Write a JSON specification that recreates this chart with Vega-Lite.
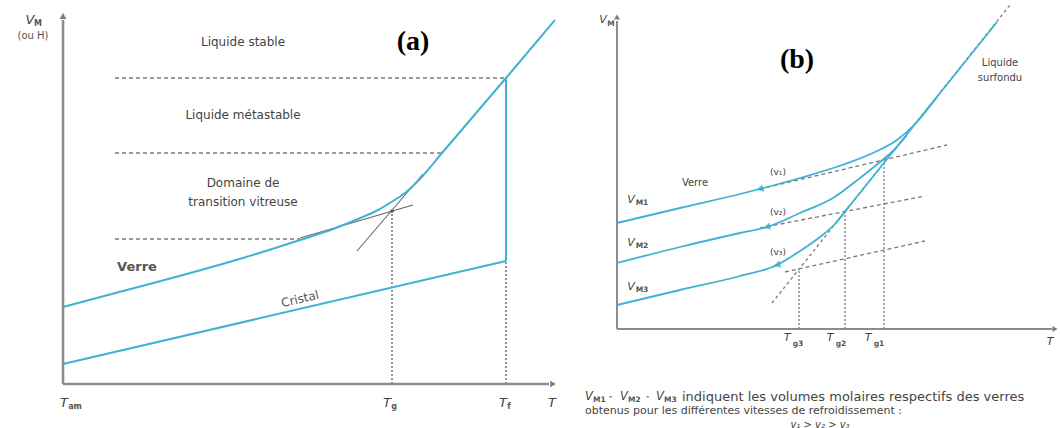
{
  "$schema": "https://vega.github.io/schema/vega-lite/v6.json",
  "autosize": {"type": "pad"},
  "padding": 0,
  "spacing": 0,
  "background": "white",
  "config": {"view": {"stroke": null}, "text": {"font": "DejaVu Sans", "baseline": "middle"}},
  "datasets": {
    "a_axes": [{"g":"y","o":0,"T":0,"V":0},{"g":"y","o":1,"T":0,"V":364},{"g":"x","o":0,"T":0,"V":0},{"g":"x","o":1,"T":486,"V":0}],
    "a_up": [{"T":0,"V":368}],
    "a_right": [{"T":490,"V":0}],
    "a_blue": [
      {"g":"verre","o":0,"T":0,"V":77},{"g":"verre","o":1,"T":60,"V":93},{"g":"verre","o":2,"T":120,"V":109},{"g":"verre","o":3,"T":180,"V":126},{"g":"verre","o":4,"T":237,"V":144},{"g":"verre","o":5,"T":270,"V":155},{"g":"verre","o":6,"T":295,"V":165},{"g":"verre","o":7,"T":315,"V":174},{"g":"verre","o":8,"T":330,"V":183},{"g":"verre","o":9,"T":342,"V":191},{"g":"verre","o":10,"T":354,"V":202},{"g":"verre","o":11,"T":379,"V":231},{"g":"verre","o":12,"T":443,"V":306},{"g":"verre","o":13,"T":492,"V":364},
      {"g":"cristal","o":0,"T":0,"V":20},{"g":"cristal","o":1,"T":443,"V":123},
      {"g":"tf","o":0,"T":443,"V":123},{"g":"tf","o":1,"T":443,"V":306}
    ],
    "a_dash": [{"T":52,"T2":443,"V":306,"V2":306},{"T":52,"T2":379,"V":231,"V2":231},{"T":52,"T2":237,"V":145,"V2":145}],
    "a_dot": [{"T":329,"T2":329,"V":0,"V2":173},{"T":443,"T2":443,"V":0,"V2":123}],
    "a_tan": [{"T":237,"T2":350,"V":146,"V2":179},{"T":294,"T2":360,"V":133,"V2":210}],
    "a_pt": [{"T":329,"V":173}],
    "a_labels": [{"text":"Liquide stable","T":180,"V":342},{"text":"Liquide métastable","T":180,"V":269},{"text":"Domaine de","T":180,"V":201},{"text":"transition vitreuse","T":180,"V":182}],
    "a_title": [{"text":"(a)","T":350,"V":342}],
    "a_verre": [{"text":"Verre","T":74,"V":117}],
    "a_cristal": [{"text":"Cristal","T":237,"V":85}],
    "a_italic": [{"text":"T","T":1,"V":-19},{"text":"T","T":324,"V":-19},{"text":"T","T":440,"V":-19},{"text":"T","T":489,"V":-19},{"text":"V","T":-33,"V":364}],
    "a_sub": [{"text":"am","T":12,"V":-23},{"text":"g","T":331,"V":-23},{"text":"f","T":446,"V":-23},{"text":"M","T":-25,"V":360}],
    "a_ouH": [{"text":"(ou H)","T":-30,"V":348}],
    "b_axes": [{"g":"y","o":0,"T":0,"V":0},{"g":"y","o":1,"T":0,"V":308},{"g":"x","o":0,"T":0,"V":0},{"g":"x","o":1,"T":435,"V":0}],
    "b_up": [{"T":0,"V":312}],
    "b_right": [{"T":438,"V":0}],
    "b_liqdash": [{"T":155,"T2":393,"V":26,"V2":324}],
    "b_glassdash": [{"T":143,"T2":330,"V":140,"V2":184},{"T":143,"T2":308,"V":101,"V2":133},{"T":168,"T2":308,"V":57,"V2":88}],
    "b_dot": [{"T":182,"T2":182,"V":0,"V2":60},{"T":228,"T2":228,"V":0,"V2":117},{"T":267,"T2":267,"V":0,"V2":168}],
    "b_blue": [
      {"g":"c1","o":0,"T":0,"V":106},{"g":"c1","o":1,"T":63,"V":121},{"g":"c1","o":2,"T":123,"V":135},{"g":"c1","o":3,"T":183,"V":151},{"g":"c1","o":4,"T":228,"V":165},{"g":"c1","o":5,"T":258,"V":177},{"g":"c1","o":6,"T":280,"V":189},{"g":"c1","o":7,"T":298,"V":205},{"g":"c1","o":8,"T":320,"V":232},
      {"g":"c2","o":0,"T":0,"V":66},{"g":"c2","o":1,"T":63,"V":82},{"g":"c2","o":2,"T":123,"V":96},{"g":"c2","o":3,"T":150,"V":102},{"g":"c2","o":4,"T":183,"V":116},{"g":"c2","o":5,"T":216,"V":131},{"g":"c2","o":6,"T":243,"V":151},{"g":"c2","o":7,"T":263,"V":167},{"g":"c2","o":8,"T":278,"V":180},{"g":"c2","o":9,"T":290,"V":194},
      {"g":"c3","o":0,"T":0,"V":24},{"g":"c3","o":1,"T":63,"V":39},{"g":"c3","o":2,"T":123,"V":53},{"g":"c3","o":3,"T":160,"V":64},{"g":"c3","o":4,"T":183,"V":78},{"g":"c3","o":5,"T":203,"V":92},{"g":"c3","o":6,"T":218,"V":105},{"g":"c3","o":7,"T":233,"V":124},
      {"g":"liq","o":0,"T":218,"V":105},{"g":"liq","o":1,"T":380,"V":307}
    ],
    "b_arrows": [{"T":143,"V":140},{"T":150,"V":102},{"T":160,"V":64}],
    "b_title": [{"text":"(b)","T":180,"V":269}],
    "b_labels": [{"text":"Liquide","T":383,"V":266},{"text":"surfondu","T":383,"V":251},{"text":"Verre","T":78,"V":146}],
    "b_v": [{"text":"(v₁)","T":161,"V":157},{"text":"(v₂)","T":161,"V":117},{"text":"(v₃)","T":161,"V":77}],
    "b_italic": [{"text":"V","T":14,"V":129},{"text":"V","T":14,"V":86},{"text":"V","T":14,"V":42},{"text":"V","T":-14,"V":309},{"text":"T","T":170,"V":-9},{"text":"T","T":213,"V":-9},{"text":"T","T":251,"V":-9},{"text":"T","T":433,"V":-13}],
    "b_sub": [{"text":"M1","T":25,"V":126},{"text":"M2","T":25,"V":83},{"text":"M3","T":25,"V":39},{"text":"M","T":-6,"V":305},{"text":"g3","T":181,"V":-15},{"text":"g2","T":224,"V":-15},{"text":"g1","T":262,"V":-15}],
    "cap_V": [{"text":"V","T":-32,"V":-68},{"text":"V","T":3,"V":-68},{"text":"V","T":39,"V":-68}],
    "cap_sub": [{"text":"M1","T":-24,"V":-71},{"text":"M2","T":11,"V":-71},{"text":"M3","T":47,"V":-71},{"text":"-","T":-8,"V":-68},{"text":"-","T":29,"V":-68}],
    "cap_line1": [{"text":"indiquent les volumes molaires respectifs des verres","T":65,"V":-68}],
    "cap_line2": [{"text":"obtenus pour les différentes vitesses de refroidissement :","T":-32,"V":-82}],
    "cap_ineq": [{"text":"v₁ > v₂ > v₃","T":203,"V":-96}]
  },
  "hconcat": [
    {
      "width": 565,
      "height": 428,
      "encoding": {
        "x": {"field":"T","type":"quantitative","scale":{"domain":[-63,502],"nice":false,"zero":false},"axis":null},
        "y": {"field":"V","type":"quantitative","scale":{"domain":[-44,384],"nice":false,"zero":false},"axis":null}
      },
      "layer": [
        {"data":{"name":"a_dash"},"mark":{"type":"rule","color":"#7a7a7a","strokeWidth":1.3,"strokeDash":[4,3]},"encoding":{"x2":{"field":"T2"},"y2":{"field":"V2"}}},
        {"data":{"name":"a_dot"},"mark":{"type":"rule","color":"#7a7a7a","strokeWidth":1.6,"strokeDash":[2,2]},"encoding":{"x2":{"field":"T2"},"y2":{"field":"V2"}}},
        {"data":{"name":"a_tan"},"mark":{"type":"rule","color":"#666666","strokeWidth":1.1},"encoding":{"x2":{"field":"T2"},"y2":{"field":"V2"}}},
        {"data":{"name":"a_axes"},"mark":{"type":"line","color":"#8c8c8c","strokeWidth":2.6},"encoding":{"detail":{"field":"g"},"order":{"field":"o"}}},
        {"data":{"name":"a_up"},"mark":{"type":"point","shape":"triangle-up","filled":true,"color":"#444444","size":45}},
        {"data":{"name":"a_right"},"mark":{"type":"point","shape":"triangle-right","filled":true,"color":"#444444","size":45}},
        {"data":{"name":"a_blue"},"mark":{"type":"line","color":"#3fb2d2","strokeWidth":2,"interpolate":"monotone"},"encoding":{"detail":{"field":"g"},"order":{"field":"o"}}},
        {"data":{"name":"a_pt"},"mark":{"type":"point","filled":true,"color":"#444444","size":14}},
        {"data":{"name":"a_labels"},"mark":{"type":"text","fontSize":12,"color":"#444444","align":"center"},"encoding":{"text":{"field":"text"}}},
        {"data":{"name":"a_title"},"mark":{"type":"text","font":"Liberation Serif","fontWeight":"bold","fontSize":28,"color":"#000000","align":"center"},"encoding":{"text":{"field":"text"}}},
        {"data":{"name":"a_verre"},"mark":{"type":"text","fontSize":13,"fontWeight":"bold","color":"#555555","align":"center"},"encoding":{"text":{"field":"text"}}},
        {"data":{"name":"a_cristal"},"mark":{"type":"text","fontSize":12,"color":"#555555","align":"center","angle":347},"encoding":{"text":{"field":"text"}}},
        {"data":{"name":"a_italic"},"mark":{"type":"text","fontSize":13,"fontStyle":"italic","color":"#444444","align":"center"},"encoding":{"text":{"field":"text"}}},
        {"data":{"name":"a_sub"},"mark":{"type":"text","fontSize":8,"fontWeight":"bold","color":"#555555","align":"center"},"encoding":{"text":{"field":"text"}}},
        {"data":{"name":"a_ouH"},"mark":{"type":"text","fontSize":10,"color":"#555555","align":"center"},"encoding":{"text":{"field":"text"}}}
      ]
    },
    {
      "width": 495,
      "height": 428,
      "encoding": {
        "x": {"field":"T","type":"quantitative","scale":{"domain":[-52,443],"nice":false,"zero":false},"axis":null},
        "y": {"field":"V","type":"quantitative","scale":{"domain":[-99,329],"nice":false,"zero":false},"axis":null}
      },
      "layer": [
        {"data":{"name":"b_liqdash"},"mark":{"type":"rule","color":"#7a7a7a","strokeWidth":1.3,"strokeDash":[3,3]},"encoding":{"x2":{"field":"T2"},"y2":{"field":"V2"}}},
        {"data":{"name":"b_glassdash"},"mark":{"type":"rule","color":"#7a7a7a","strokeWidth":1.3,"strokeDash":[4,3]},"encoding":{"x2":{"field":"T2"},"y2":{"field":"V2"}}},
        {"data":{"name":"b_dot"},"mark":{"type":"rule","color":"#7a7a7a","strokeWidth":1.3,"strokeDash":[2,2]},"encoding":{"x2":{"field":"T2"},"y2":{"field":"V2"}}},
        {"data":{"name":"b_axes"},"mark":{"type":"line","color":"#8c8c8c","strokeWidth":2},"encoding":{"detail":{"field":"g"},"order":{"field":"o"}}},
        {"data":{"name":"b_up"},"mark":{"type":"point","shape":"triangle-up","filled":true,"color":"#444444","size":35}},
        {"data":{"name":"b_right"},"mark":{"type":"point","shape":"triangle-right","filled":true,"color":"#444444","size":35}},
        {"data":{"name":"b_blue"},"mark":{"type":"line","color":"#3fb2d2","strokeWidth":1.8,"interpolate":"monotone"},"encoding":{"detail":{"field":"g"},"order":{"field":"o"}}},
        {"data":{"name":"b_arrows"},"mark":{"type":"point","shape":"triangle-left","filled":true,"color":"#2f9fd0","size":60,"angle":345}},
        {"data":{"name":"b_title"},"mark":{"type":"text","font":"Liberation Serif","fontWeight":"bold","fontSize":28,"color":"#000000","align":"center"},"encoding":{"text":{"field":"text"}}},
        {"data":{"name":"b_labels"},"mark":{"type":"text","fontSize":10,"color":"#444444","align":"center"},"encoding":{"text":{"field":"text"}}},
        {"data":{"name":"b_v"},"mark":{"type":"text","fontSize":9,"color":"#444444","align":"center"},"encoding":{"text":{"field":"text"}}},
        {"data":{"name":"b_italic"},"mark":{"type":"text","fontSize":11,"fontStyle":"italic","color":"#444444","align":"center"},"encoding":{"text":{"field":"text"}}},
        {"data":{"name":"b_sub"},"mark":{"type":"text","fontSize":7.5,"fontWeight":"bold","color":"#555555","align":"center"},"encoding":{"text":{"field":"text"}}},
        {"data":{"name":"cap_V"},"mark":{"type":"text","fontSize":11.5,"fontStyle":"italic","color":"#444444","align":"left"},"encoding":{"text":{"field":"text"}}},
        {"data":{"name":"cap_sub"},"mark":{"type":"text","fontSize":7.5,"fontWeight":"bold","color":"#555555","align":"left"},"encoding":{"text":{"field":"text"}}},
        {"data":{"name":"cap_line1"},"mark":{"type":"text","fontSize":13,"color":"#444444","align":"left"},"encoding":{"text":{"field":"text"}}},
        {"data":{"name":"cap_line2"},"mark":{"type":"text","fontSize":11,"color":"#444444","align":"left"},"encoding":{"text":{"field":"text"}}},
        {"data":{"name":"cap_ineq"},"mark":{"type":"text","fontSize":10,"fontStyle":"italic","color":"#444444","align":"center"},"encoding":{"text":{"field":"text"}}}
      ]
    }
  ]
}
